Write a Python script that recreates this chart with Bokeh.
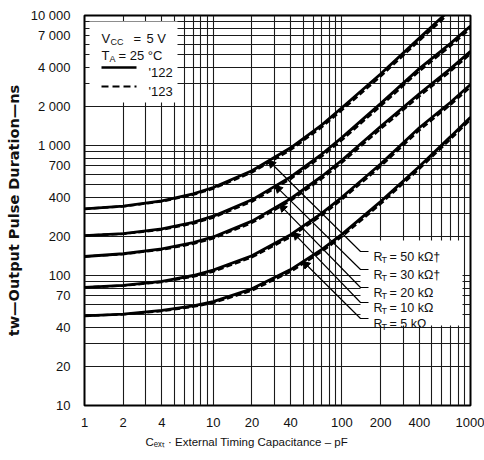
import json, math
import numpy as np
from bokeh.plotting import figure
from bokeh.models import FixedTicker, Label, CustomJSTickFormatter, Title
from bokeh.embed import file_html
from bokeh.resources import INLINE

# ---------------- data ----------------
cap = [1, 2, 4, 7, 10, 20, 40, 70, 100, 200, 400, 700, 1000]          # Cext, pF
cap_50k = [1, 2, 4, 7, 10, 20, 40, 70, 100, 200, 400, 640]

tw122_50k = [326, 342, 375, 425, 475, 640, 960, 1440, 1950, 3550, 6700, 10300]
tw123_50k = [326, 340, 371, 418, 465, 620, 925, 1385, 1870, 3400, 6400, 9800]
tw122_30k = [203, 210, 228, 256, 286, 382, 574, 860, 1150, 2100, 3900, 6100, 8300]
tw123_30k = [203, 209, 225, 251, 279, 370, 553, 826, 1100, 2010, 3730, 5830, 7950]
tw122_20k = [140, 147, 160, 179, 198, 262, 390, 580, 770, 1400, 2500, 3900, 5300]
tw123_20k = [140, 146, 158, 175, 193, 254, 376, 557, 738, 1340, 2390, 3730, 5070]
tw122_10k = [81, 84, 90, 100, 110, 142, 206, 302, 400, 720, 1370, 2150, 2950]
tw123_10k = [81, 83.5, 89, 98, 107, 138, 198, 290, 384, 690, 1310, 2060, 2820]
tw122_5k = [49, 50.5, 54, 58.5, 63, 79, 111, 159, 207, 370, 690, 1170, 1650]
tw123_5k = [49, 50.2, 53.3, 57.5, 61.5, 76.5, 107, 153, 199, 355, 661, 1120, 1580]

rt_values = ["50 kΩ†", "30 kΩ†", "20 kΩ", "10 kΩ", "5 kΩ"]
leader_cap = [27, 30.5, 33, 42, 50]      # where each leader touches its curve

x_ticks = [1, 2, 4, 10, 20, 40, 100, 200, 400, 1000]
x_tick_labels = ["1", "2", "4", "10", "20", "40", "100", "200", "400", "1000"]
y_ticks = [10, 20, 40, 70, 100, 200, 400, 700, 1000, 2000, 4000, 7000, 10000]
y_tick_labels = ["10", "20", "40", "70", "100", "200", "400", "700",
                 "1 000", "2 000", "4 000", "7 000", "10 000"]

x_grid = list(range(1, 10)) + list(range(10, 100, 10)) + list(range(100, 1001, 100))
y_grid = list(range(10, 100, 10)) + list(range(100, 1000, 100)) + list(range(1000, 10001, 1000))

y_title = "tᴡ—Output Pulse Duration—ns"
x_title = "Cₑₓₜ · External Timing Capacitance – pF"

# ---------------- layout ----------------
W, H = 484, 460
L, R, T, B = 84, 14, 15, 55
FW, FH = W - L - R, H - T - B


def X(px):
    return 10 ** ((px - L) / FW * 3)


def Y(py):
    return 10 ** (4 - (py - T) / FH * 3)


def PX(c):
    return L + FW / 3 * math.log10(c)


def PY(v):
    return T + FH / 3 * (4 - math.log10(v))


FONT = "Liberation Sans"

p = figure(width=W, height=H, x_axis_type="log", y_axis_type="log",
           x_range=(1, 1000), y_range=(10, 10000), title=None,
           output_backend="svg", toolbar_location=None,
           min_border_left=L, min_border_right=R, min_border_top=T, min_border_bottom=B,
           background_fill_color="white", border_fill_color="white")

p.outline_line_color = "black"
p.outline_line_width = 2

# axes
p.xaxis.ticker = FixedTicker(ticks=x_ticks)
p.yaxis.ticker = FixedTicker(ticks=y_ticks)
xl = json.dumps({str(v): s for v, s in zip(x_ticks, x_tick_labels)})
yl = json.dumps({str(v): s for v, s in zip(y_ticks, y_tick_labels)})
p.xaxis.formatter = CustomJSTickFormatter(code=f"const L={xl}; const k=String(Math.round(tick)); return (k in L)?L[k]:'';")
p.yaxis.formatter = CustomJSTickFormatter(code=f"const L={yl}; const k=String(Math.round(tick)); return (k in L)?L[k]:'';")
for ax in (p.xaxis, p.yaxis):
    ax.axis_line_color = None
    ax.major_tick_line_color = None
    ax.minor_tick_line_color = None
    ax.major_label_text_font = FONT
    ax.major_label_text_font_size = "13px"
    ax.major_label_text_color = "#111111"
p.xaxis.major_label_standoff = 6
p.yaxis.major_label_standoff = 8

p.yaxis.axis_label = y_title
p.yaxis.axis_label_text_font = "DejaVu Sans"
p.yaxis.axis_label_text_font_style = "bold"
p.yaxis.axis_label_text_font_size = "14.5px"
p.yaxis.axis_label_text_color = "#111111"
p.yaxis.axis_label_standoff = 6

p.add_layout(Title(text=x_title, align="left", offset=61, standoff=8,
                   text_font=FONT, text_font_style="normal", text_font_size="11.5px",
                   text_color="#111111"), "below")

# grid
p.xgrid.ticker = FixedTicker(ticks=x_grid)
p.ygrid.ticker = FixedTicker(ticks=y_grid)
for g in (p.xgrid, p.ygrid):
    g.grid_line_color = "#1a1a1a"
    g.grid_line_width = 1.1

# white panels (legend / labels area hides the grid)
p.quad(left=[X(89), X(360)], right=[X(177), X(462)],
       top=[Y(21), Y(240)], bottom=[Y(102), Y(325)],
       fill_color="white", line_color=None)

# curves
series = [
    (cap_50k, tw122_50k, tw123_50k),
    (cap, tw122_30k, tw123_30k),
    (cap, tw122_20k, tw123_20k),
    (cap, tw122_10k, tw123_10k),
    (cap, tw122_5k, tw123_5k),
]
for cx, s122, s123 in series:
    p.line(cx, s123, line_color="black", line_width=2.3, line_dash="6 3")
    p.line(cx, s122, line_color="black", line_width=2.8)

# leaders and arrowheads
label_py = [251, 269, 287, 302, 318]
ax_pts, ay_pts = [], []
for (cx, s122, _), c, lpy in zip(series, leader_cap, label_py):
    v = 10 ** np.interp(math.log10(c), np.log10(cx), np.log10(s122))
    p.line([c, X(360), X(368)], [v, Y(lpy), Y(lpy)], line_color="black", line_width=1.2)
    ax_pts.append(X(PX(c) + 3))
    ay_pts.append(Y(PY(v) + 3))
p.scatter(ax_pts, ay_pts, marker="triangle", size=8, angle=math.pi / 4,
          fill_color="black", line_color="black")


def txt(s, px, py, size, font=FONT, style="normal", angle=0.0, align="left"):
    p.add_layout(Label(x=X(px), y=Y(py), text=s, text_font=font, text_font_style=style,
                       text_font_size=f"{size}px", text_color="#111111", angle=angle,
                       text_align=align, text_baseline="alphabetic"))


# RT labels
for lab, lpy in zip(rt_values, label_py):
    txt("R", 373, lpy + 5, 12.5)
    txt("T", 381, lpy + 8, 9)
    txt("= " + lab, 389, lpy + 5, 12.5)

# legend
txt("V", 101, 38, 13)
txt("CC", 110, 41, 9)
txt("=", 133, 38, 13)
txt("5 V", 146, 38, 13)
txt("T", 101, 55, 13)
txt("A", 109, 58, 9)
txt("= 25 °C", 118, 55, 13)
p.line([X(101), X(136)], [Y(67), Y(67)], line_color="black", line_width=2.5)
p.line([X(101), X(136)], [Y(86), Y(86)], line_color="black", line_width=2.2, line_dash="7 4")
txt("'122", 148, 72, 13)
txt("'123", 148, 91, 13)

open("out.html", "w").write(file_html(p, INLINE))
